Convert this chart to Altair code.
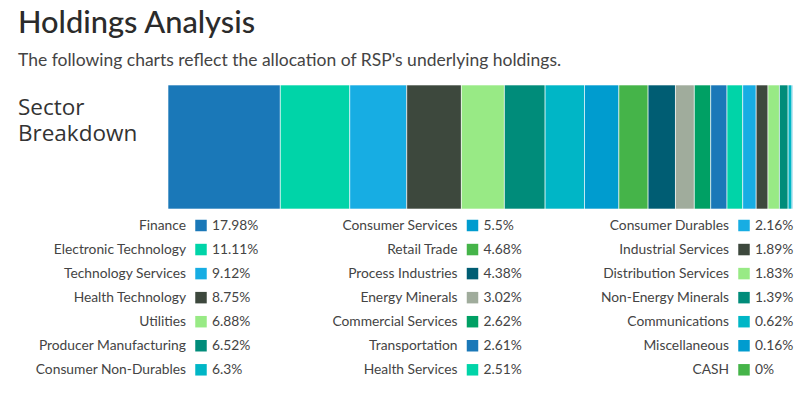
import altair as alt
import pandas as pd

# ---- data ----
sectors = [
    "Finance", "Electronic Technology", "Technology Services", "Health Technology",
    "Utilities", "Producer Manufacturing", "Consumer Non-Durables",
    "Consumer Services", "Retail Trade", "Process Industries", "Energy Minerals",
    "Commercial Services", "Transportation", "Health Services",
    "Consumer Durables", "Industrial Services", "Distribution Services",
    "Non-Energy Minerals", "Communications", "Miscellaneous", "CASH",
]
values = [17.98, 11.11, 9.12, 8.75, 6.88, 6.52, 6.3,
          5.5, 4.68, 4.38, 3.02, 2.62, 2.61, 2.51,
          2.16, 1.89, 1.83, 1.39, 0.62, 0.16, 0]
value_labels = ["17.98%", "11.11%", "9.12%", "8.75%", "6.88%", "6.52%", "6.3%",
                "5.5%", "4.68%", "4.38%", "3.02%", "2.62%", "2.61%", "2.51%",
                "2.16%", "1.89%", "1.83%", "1.39%", "0.62%", "0.16%", "0%"]
palette = ["#1a78b8", "#00d4a8", "#17ade3", "#3d483d", "#98ea85", "#008c7a",
           "#00b6c6", "#009ccf", "#45b449", "#005d73", "#a0ac9c", "#00a064"]
colors = [palette[i % len(palette)] for i in range(len(sectors))]

title_text = "Holdings Analysis"
subtitle_text = "The following charts reflect the allocation of RSP's underlying holdings."
panel_lines = ["Sector", "Breakdown"]

rows_per_col = 7
df = pd.DataFrame({
    "sector": sectors,
    "value": values,
    "label": value_labels,
    "idx": list(range(len(sectors))),
})
df["col"] = df["idx"] // rows_per_col
df["row"] = df["idx"] % rows_per_col

total = sum(values)
color_scale = alt.Scale(domain=sectors, range=colors)
FONT = "Lato"

bar = alt.Chart(df).transform_window(
    cum="sum(value)", sort=[alt.SortField("idx")], frame=[None, 0]
).transform_calculate(
    start="datum.cum - datum.value"
).mark_bar(stroke="white", strokeWidth=0.6).encode(
    x=alt.X("start:Q",
            scale=alt.Scale(domain=[0, total], range=[160, 785], nice=False, zero=True),
            axis=None),
    x2="cum:Q",
    y=alt.value(77),
    y2=alt.value(201),
    color=alt.Color("sector:N", scale=color_scale, legend=None),
    tooltip=["sector", "label"],
)

leg_x = alt.X("col:O", scale=alt.Scale(type="point", domain=[0, 1, 2], range=[193, 736], padding=0), axis=None)
leg_y = alt.Y("row:O", scale=alt.Scale(type="point", domain=list(range(rows_per_col)), range=[217.5, 361.8], padding=0), axis=None)

swatch = alt.Chart(df).mark_square(size=132, opacity=1).encode(
    x=leg_x, y=leg_y,
    color=alt.Color("sector:N", scale=color_scale, legend=None),
)
names = alt.Chart(df).mark_text(align="right", baseline="middle", dx=-15, dy=0.5,
                                font=FONT, fontSize=13.8, color="#444").encode(
    x=leg_x, y=leg_y, text="sector:N")
vals = alt.Chart(df).mark_text(align="left", baseline="middle", dx=11, dy=0.5,
                               font=FONT, fontSize=13.8, color="#444").encode(
    x=leg_x, y=leg_y, text="label:N")

title = alt.Chart(pd.DataFrame({"t": [title_text]})).mark_text(
    align="left", baseline="alphabetic", font=FONT, fontSize=30.8, fontWeight=500, color="#2b2b2b"
).encode(x=alt.value(10), y=alt.value(25), text="t:N")

subtitle = alt.Chart(pd.DataFrame({"t": [subtitle_text]})).mark_text(
    align="left", baseline="alphabetic", font=FONT, fontSize=17.5, color="#444"
).encode(x=alt.value(10), y=alt.value(58), text="t:N")

panel1 = alt.Chart(pd.DataFrame({"t": [panel_lines[0]]})).mark_text(
    align="left", baseline="alphabetic", font="Open Sans", fontSize=22.5, color="#333"
).encode(x=alt.value(10), y=alt.value(107), text="t:N")
panel2 = alt.Chart(pd.DataFrame({"t": [panel_lines[1]]})).mark_text(
    align="left", baseline="alphabetic", font="Open Sans", fontSize=22.5, color="#333"
).encode(x=alt.value(10), y=alt.value(133), text="t:N")

chart = alt.layer(bar, swatch, names, vals, title, subtitle, panel1, panel2).resolve_scale(
    x="independent", y="independent"
).properties(
    width=795, height=382,
    autosize=alt.AutoSizeParams(type="none"),
    padding=0,
).configure_view(stroke=None)

chart.save("out.html", embed_options={"renderer": "svg", "actions": False})
